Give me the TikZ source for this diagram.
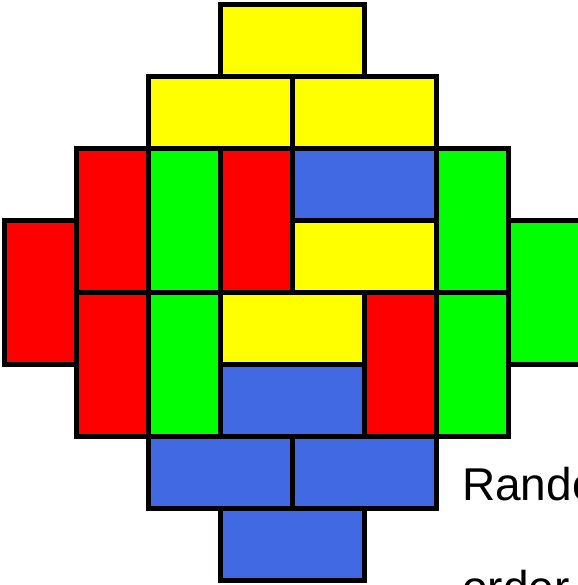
\documentclass[tikz,border=0pt]{standalone}
\usepackage{fontspec}
\setmainfont{Liberation Sans}
\definecolor{tyellow}{HTML}{FFFF00}
\definecolor{tred}{HTML}{FF0000}
\definecolor{tgreen}{HTML}{00FF00}
\definecolor{tblue}{HTML}{4169E1}
\tikzset{
  tile/.style={draw=black, line width=5pt, line join=miter},
  caption/.style={anchor=base west, inner sep=0pt, font=\fontsize{46}{50}\selectfont}
}
\newcommand{\dtile}[5]{% color, c0, r0, c1, r1
  \filldraw[tile, fill=#1] ({4.5+72*#2},{4.5+72*#3}) rectangle ({4.5+72*#4},{4.5+72*#5});}
\begin{document}
\begin{tikzpicture}[x=1pt,y=-1pt]
\useasboundingbox (0,0) rectangle (577,585);
% row 0-1
\dtile{tyellow}{3}{0}{5}{1}
\dtile{tyellow}{2}{1}{4}{2}
\dtile{tyellow}{4}{1}{6}{2}
% rows 2-3
\dtile{tred}{1}{2}{2}{4}
\dtile{tgreen}{2}{2}{3}{4}
\dtile{tred}{3}{2}{4}{4}
\dtile{tblue}{4}{2}{6}{3}
\dtile{tyellow}{4}{3}{6}{4}
\dtile{tgreen}{6}{2}{7}{4}
% rows 3-4 sides
\dtile{tred}{0}{3}{1}{5}
\dtile{tgreen}{7}{3}{8}{5}
% rows 4-5
\dtile{tred}{1}{4}{2}{6}
\dtile{tgreen}{2}{4}{3}{6}
\dtile{tyellow}{3}{4}{5}{5}
\dtile{tblue}{3}{5}{5}{6}
\dtile{tred}{5}{4}{6}{6}
\dtile{tgreen}{6}{4}{7}{6}
% rows 6-7
\dtile{tblue}{2}{6}{4}{7}
\dtile{tblue}{4}{6}{6}{7}
\dtile{tblue}{3}{7}{5}{8}
% caption
\node[caption] (cap1) at (462,500) {Rando};
\node[caption] (cap2) at (462,603) {order};
\end{tikzpicture}
\end{document}
